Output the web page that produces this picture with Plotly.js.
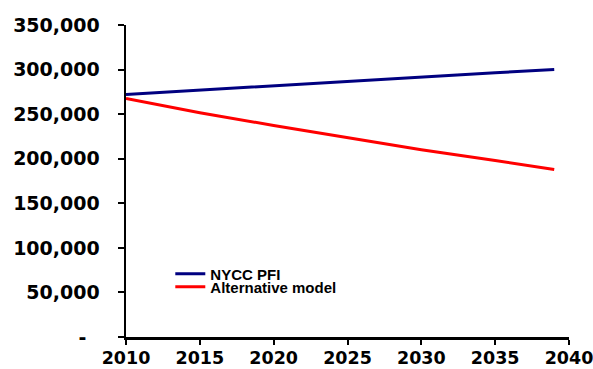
<!DOCTYPE html>
<html>
<head>
<meta charset="utf-8">
<script src="https://cdn.plot.ly/plotly-3.0.1.min.js"></script>
<style>html,body{margin:0;padding:0;background:#fff;}#chart{width:593px;height:369px;}</style>
</head>
<body>
<div id="chart"></div>
<script>
// Years
var years = [2010, 2015, 2020, 2025, 2030, 2035, 2039];
// NYCC PFI series
var nyccPfi = [272000, 277000, 282000, 287000, 292000, 296500, 300000];
// Alternative model series
var alternativeModel = [267500, 251500, 237300, 223400, 210000, 197900, 188000];
var seriesNames = ["NYCC PFI", "Alternative model"];
// Axis ticks
var yTickVals = [0, 50000, 100000, 150000, 200000, 250000, 300000, 350000];
var yTickText = ["-\u00a0\u00a0", "50,000", "100,000", "150,000", "200,000", "250,000", "300,000", "350,000"];
var xTickVals = [2010, 2015, 2020, 2025, 2030, 2035, 2040];

var traces = [
  {x: years, y: nyccPfi, name: seriesNames[0], type: "scatter", mode: "lines",
   line: {color: "#000080", width: 3}, legend: "legend"},
  {x: years, y: alternativeModel, name: seriesNames[1], type: "scatter", mode: "lines",
   line: {color: "#FF0000", width: 3}, legend: "legend2"}
];

var legendFont = {family: "Liberation Sans, Arial, sans-serif", size: 15, color: "#000", weight: "bold"};
var layout = {
  width: 593, height: 369,
  margin: {l: 126, r: 24, t: 25, b: 32, pad: 0},
  paper_bgcolor: "#fff", plot_bgcolor: "#fff",
  showlegend: true,
  legend: {x: 0.1, y: 0.202, xanchor: "left", yanchor: "middle", bgcolor: "rgba(0,0,0,0)",
           font: legendFont, borderwidth: 0},
  legend2: {x: 0.1, y: 0.16, xanchor: "left", yanchor: "middle", bgcolor: "rgba(0,0,0,0)",
           font: legendFont, borderwidth: 0},
  xaxis: {
    range: [2010, 2040], tickvals: xTickVals, ticktext: xTickVals.map(String),
    showgrid: false, zeroline: false, showline: true, linecolor: "#000", linewidth: 2.5,
    ticks: "outside", ticklen: 5, tickwidth: 2, tickcolor: "#000",
    ticklabeloverflow: "allow", ticklabelstandoff: -2,
    tickfont: {family: "DejaVu Sans, sans-serif", size: 17.5, color: "#000", weight: "bold"}
  },
  yaxis: {
    range: [0, 350000], tickvals: yTickVals, ticktext: yTickText,
    showgrid: false, zeroline: false, showline: true, linecolor: "#000", linewidth: 2.5,
    ticks: "outside", ticklen: 6, tickwidth: 2, tickcolor: "#000",
    ticklabelstandoff: 14,
    tickfont: {family: "DejaVu Sans, sans-serif", size: 19, color: "#000", weight: "bold"}
  }
};

Plotly.newPlot("chart", traces, layout, {displayModeBar: false, staticPlot: true});
</script>
</body>
</html>
